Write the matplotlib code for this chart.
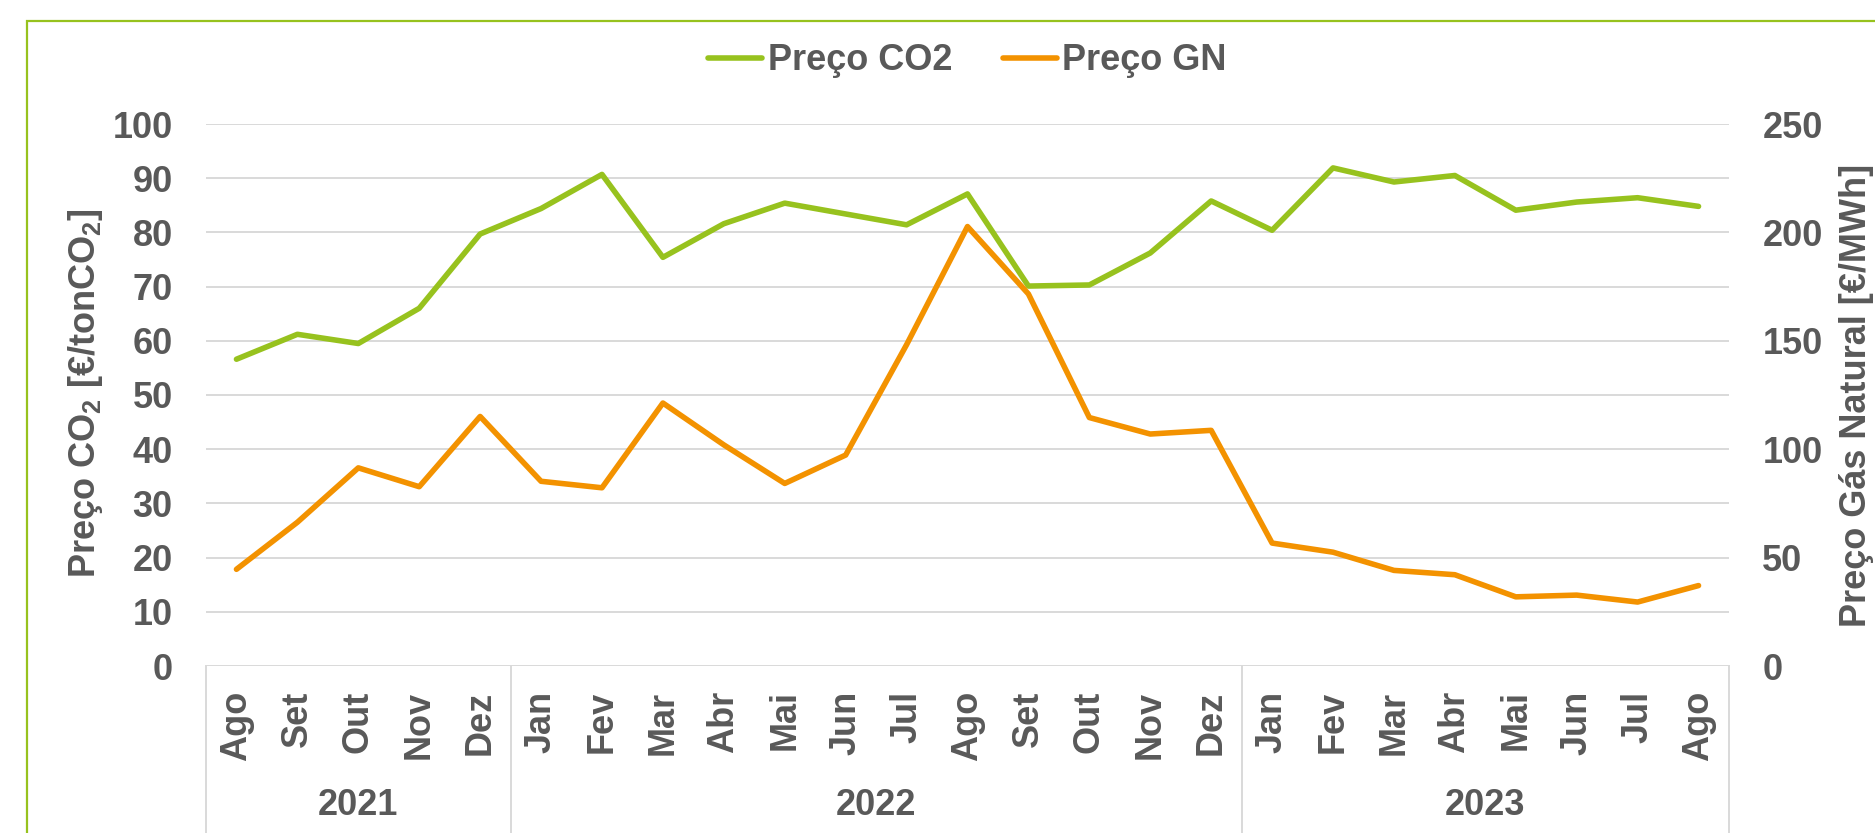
import matplotlib
matplotlib.use("Agg")
import matplotlib.pyplot as plt
from matplotlib.lines import Line2D
from matplotlib.patches import Rectangle

# data
months = ["Ago", "Set", "Out", "Nov", "Dez",
          "Jan", "Fev", "Mar", "Abr", "Mai", "Jun", "Jul", "Ago", "Set", "Out", "Nov", "Dez",
          "Jan", "Fev", "Mar", "Abr", "Mai", "Jun", "Jul", "Ago"]
years = ["2021", "2022", "2023"]
year_sizes = [5, 12, 8]

co2_price = [56.6, 61.2, 59.5, 66.0, 79.7,
             84.4, 90.7, 75.4, 81.6, 85.4, 83.4, 81.4, 87.1, 70.1, 70.3, 76.2, 85.8,
             80.4, 91.9, 89.3, 90.5, 84.1, 85.6, 86.4, 84.8]
gn_price = [44.6, 66.3, 91.4, 82.7, 115.1,
            85.2, 82.2, 121.3, 102.0, 84.2, 97.3, 148.2, 202.7, 171.6, 114.6, 107.0, 108.7,
            56.7, 52.5, 44.1, 42.1, 31.9, 32.7, 29.5, 37.1]

GREEN = "#97C21E"
ORANGE = "#F39200"
TEXT = "#595959"
GRID = "#D9D9D9"

plt.rcParams["font.family"] = ["Liberation Sans", "DejaVu Sans"]
plt.rcParams["font.weight"] = "bold"
plt.rcParams["font.size"] = 26
plt.rcParams["mathtext.fontset"] = "custom"
plt.rcParams["mathtext.rm"] = "Liberation Sans:bold"
plt.rcParams["mathtext.it"] = "Liberation Sans:bold:italic"
plt.rcParams["mathtext.bf"] = "Liberation Sans:bold"

W, H = 1875, 833
fig = plt.figure(figsize=(W / 100, H / 100), dpi=100)
ax = fig.add_axes([206 / W, (H - 666) / H, 1523 / W, 542 / H])
ax2 = ax.twinx()

x = list(range(len(months)))
line_kw = dict(lw=4.0, solid_capstyle="round", solid_joinstyle="round")
l1, = ax.plot(x, co2_price, color=GREEN, label="Preço CO2", **line_kw)
l2, = ax2.plot(x, gn_price, color=ORANGE, label="Preço GN", **line_kw)

ax.set_xlim(-0.5, len(months) - 0.5)
ax.set_ylim(0, 100)
ax2.set_ylim(0, 250)
ax.set_yticks(range(0, 101, 10))
ax2.set_yticks(range(0, 251, 50))
ax.set_xticks([])

for a in (ax, ax2):
    for s in a.spines.values():
        s.set_visible(False)
    a.tick_params(axis="y", length=0, pad=24, labelcolor=TEXT, labelsize=26)

ax.yaxis.grid(True, color=GRID, lw=1.4)
ax.set_axisbelow(True)

# multi-level category axis
xt = ax.get_xaxis_transform()
for i, m in enumerate(months):
    ax.text(i, -0.045, m, rotation=90, ha="center", va="top",
            color=TEXT, fontsize=26, transform=xt)

bounds = [0]
for n in year_sizes:
    bounds.append(bounds[-1] + n)
for b in bounds:
    ax.add_line(Line2D([b - 0.5, b - 0.5], [0, -0.4], transform=xt,
                       color=GRID, lw=1.4, clip_on=False))
for k, yr in enumerate(years):
    cx = (bounds[k] + bounds[k + 1] - 1) / 2
    ax.text(cx, -0.2565, yr, ha="center", va="center",
            color=TEXT, fontsize=26, transform=xt)

# axis titles
fig.text(86 / W, 1 - 393 / H, "Preço CO$_2$ [€/tonCO$_2$]", rotation=90,
         ha="center", va="center", color=TEXT, fontsize=26)
fig.text(1856 / W, 1 - 395 / H, "Preço Gás Natural [€/MWh]", rotation=90,
         ha="center", va="center", color=TEXT, fontsize=26)

fig.legend(handles=[l1, l2], loc="center", bbox_to_anchor=(967.5 / W, 1 - 61 / H),
           ncol=2, frameon=False, handlelength=1.5, handletextpad=0.15,
           columnspacing=1.4, borderpad=0, labelcolor=TEXT, fontsize=26)

# green outer frame
fig.patches.append(Rectangle((27 / W, -0.1), 1.2, 0.1 + (1 - 21 / H),
                             transform=fig.transFigure, fill=False,
                             edgecolor=GREEN, lw=1.6))

fig.savefig("out.png", dpi=100)
